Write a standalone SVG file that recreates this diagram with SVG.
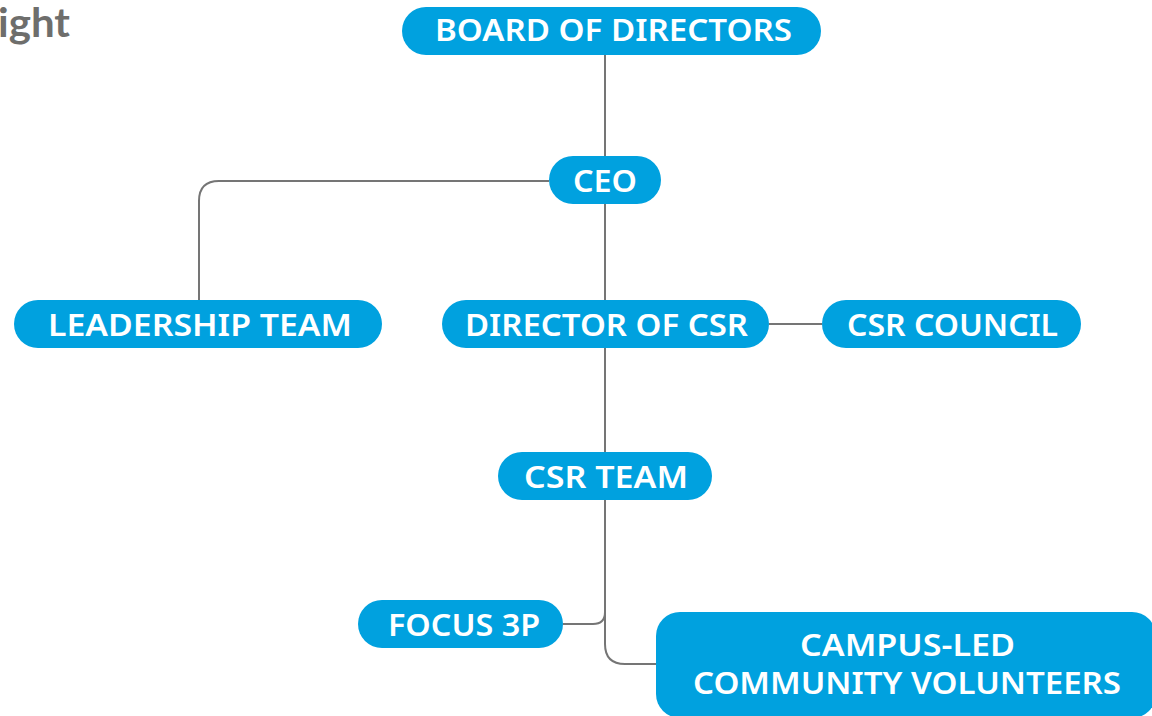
<svg xmlns="http://www.w3.org/2000/svg" width="1152" height="716" viewBox="0 0 1152 716">
<style>
.n{fill:#00a1df}
.t{font-family:"Noto Sans","Open Sans",sans-serif;font-weight:600;font-size:31px;fill:#fff;text-anchor:middle}
.c{fill:none;stroke:#757575;stroke-width:2}
</style>
<rect width="1152" height="716" fill="#fff"/>
<text x="-2" y="37" font-family="Lato,sans-serif" font-weight="700" font-size="40" fill="#6e6e6c" textLength="72" lengthAdjust="spacingAndGlyphs">ight</text>
<g id="connectors">
<path class="c" d="M605 55V156"/>
<path class="c" d="M549 181H219Q199 181 199 201V300"/>
<path class="c" d="M605 204V300"/>
<path class="c" d="M769 324H822"/>
<path class="c" d="M605 348V452"/>
<path class="c" d="M605 500V612Q605 624 593 624H563"/>
<path class="c" d="M605 500V644Q605 664 625 664H656"/>
</g>
<g id="board"><rect class="n" x="402" y="7" width="419" height="48" rx="24"/><text class="t" x="613.5" y="41" textLength="357" lengthAdjust="spacingAndGlyphs">BOARD OF DIRECTORS</text></g>
<g id="ceo"><rect class="n" x="549" y="156" width="112" height="48" rx="24"/><text class="t" x="605" y="192" textLength="64" lengthAdjust="spacingAndGlyphs">CEO</text></g>
<g id="leadership"><rect class="n" x="14" y="300" width="368" height="48" rx="24"/><text class="t" x="200" y="336" textLength="304" lengthAdjust="spacingAndGlyphs">LEADERSHIP TEAM</text></g>
<g id="director"><rect class="n" x="442" y="300" width="327" height="48" rx="24"/><text class="t" x="606.5" y="336" textLength="283" lengthAdjust="spacingAndGlyphs">DIRECTOR OF CSR</text></g>
<g id="council"><rect class="n" x="822" y="300" width="259" height="48" rx="24"/><text class="t" x="952.5" y="336" textLength="211" lengthAdjust="spacingAndGlyphs">CSR COUNCIL</text></g>
<g id="csrteam"><rect class="n" x="498" y="452" width="214" height="48" rx="24"/><text class="t" x="606" y="488" textLength="164" lengthAdjust="spacingAndGlyphs">CSR TEAM</text></g>
<g id="focus"><rect class="n" x="358" y="600" width="205" height="48" rx="24"/><text class="t" x="464" y="636" textLength="152" lengthAdjust="spacingAndGlyphs">FOCUS 3P</text></g>
<g id="campus"><rect class="n" x="656" y="612" width="500" height="106" rx="24"/><text class="t" x="907.5" y="656" textLength="215" lengthAdjust="spacingAndGlyphs">CAMPUS-LED</text><text class="t" x="907" y="694" textLength="428" lengthAdjust="spacingAndGlyphs">COMMUNITY VOLUNTEERS</text></g>
</svg>
